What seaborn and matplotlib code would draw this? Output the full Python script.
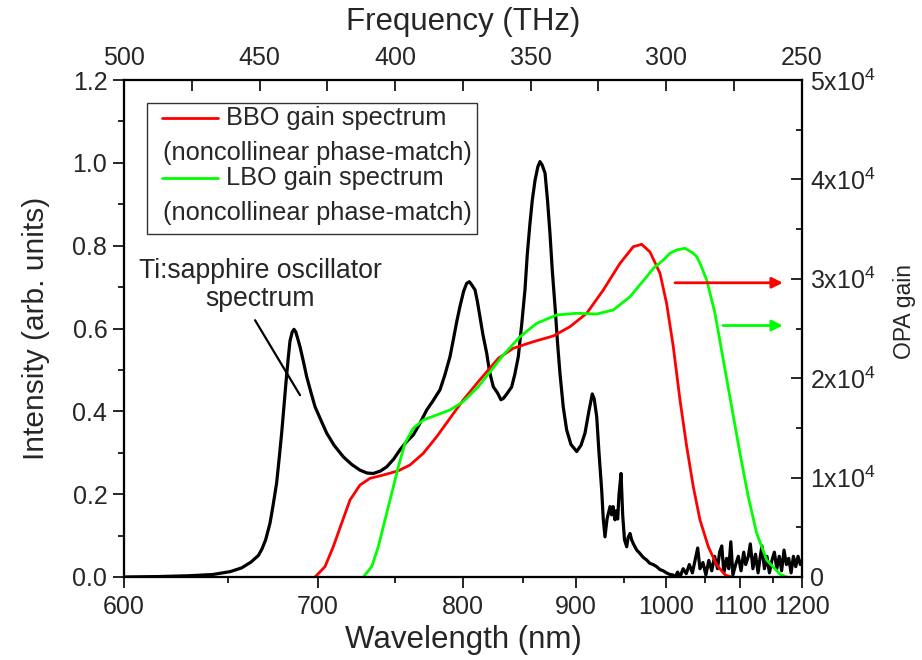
import matplotlib
matplotlib.use("Agg")
import matplotlib.pyplot as plt
import numpy as np
import pandas as pd
import seaborn as sns
from matplotlib.patches import Rectangle
from matplotlib.lines import Line2D

C_NM_THZ = 299792.458  # speed of light in nm*THz

# ---------------- data ----------------
ti_wavelength = [600, 615, 630, 642, 651, 657, 662, 666, 668, 670, 672.4, 674, 676.1, 677.5, 679,
                 680.2, 681.4, 682.6, 683.7, 685, 686, 687, 688, 689.5, 691.5, 693.4, 696, 698.4,
                 702, 705.5, 710, 715.8, 721, 726.4, 731, 735.2, 740, 744.2, 749, 753.3, 758,
                 762.7, 767, 772.4, 777, 782.3, 786, 789.9, 792.4, 795, 797.6, 800.5, 802.9, 805.0,
                 807, 809.6, 811.5, 813.6, 816, 819.1, 821.5, 824.6, 828, 831, 833.0, 836, 840.2,
                 843, 846.0, 849, 851.9, 854, 856.4, 858.5, 861.0, 863.5, 865.5, 867.5, 870.2,
                 872.5, 874.8, 877, 879.6, 882, 884.3, 887.5, 890.8, 895, 900.7, 905, 909.0, 913,
                 916.5, 918.5, 921.1, 923.5, 926.3, 928, 929.8, 932, 935.2, 937, 938.5, 940.6, 942,
                 943.5, 945, 947.2, 949, 951, 953.5, 955, 957.2, 959, 961, 964.8, 968, 972, 976.3,
                 980, 984, 988.2, 992, 996, 1000, 1004.4,
                 1008, 1011, 1014, 1017, 1021, 1025, 1029, 1033, 1037, 1040, 1043, 1047, 1051,
                 1055, 1059, 1063, 1067, 1070, 1073, 1076, 1080, 1083, 1086, 1089, 1093, 1097,
                 1101, 1105, 1108, 1112, 1115, 1119, 1123, 1127, 1130, 1133, 1137, 1141, 1145,
                 1149, 1153, 1157, 1161, 1165, 1169, 1173, 1177, 1181, 1185, 1189, 1193, 1197, 1200]
ti_intensity = [0.000, 0.001, 0.003, 0.006, 0.013, 0.022, 0.036, 0.052, 0.068, 0.090, 0.130, 0.170,
                0.227, 0.285, 0.350, 0.410, 0.470, 0.525, 0.570, 0.592, 0.598, 0.592, 0.578, 0.556,
                0.520, 0.484, 0.445, 0.411, 0.378, 0.347, 0.318, 0.290, 0.272, 0.258, 0.251, 0.250,
                0.256, 0.266, 0.285, 0.307, 0.327, 0.343, 0.368, 0.403, 0.425, 0.452, 0.488, 0.532,
                0.572, 0.615, 0.653, 0.690, 0.709, 0.713, 0.705, 0.693, 0.665, 0.628, 0.585, 0.540,
                0.495, 0.459, 0.445, 0.428, 0.431, 0.442, 0.459, 0.490, 0.532, 0.610, 0.693, 0.780,
                0.854, 0.910, 0.958, 0.990, 1.003, 0.995, 0.975, 0.910, 0.830, 0.740, 0.653, 0.565,
                0.492, 0.410, 0.355, 0.320, 0.303, 0.318, 0.347, 0.400, 0.442, 0.430, 0.387, 0.300,
                0.210, 0.140, 0.097, 0.140, 0.170, 0.150, 0.170, 0.138, 0.160, 0.140, 0.200, 0.250,
                0.150, 0.090, 0.073, 0.095, 0.105, 0.090, 0.080, 0.065, 0.058, 0.048, 0.041, 0.033,
                0.030, 0.025, 0.018, 0.015, 0.010, 0.006,
                0.005, 0.000, 0.012, 0.000, 0.020, 0.008, 0.030, 0.010, 0.045, 0.070, 0.020, 0.035,
                0.005, 0.040, 0.015, 0.050, 0.020, 0.060, 0.075, 0.010, 0.045, 0.020, 0.085, 0.005,
                0.030, 0.050, 0.015, 0.060, 0.030, 0.050, 0.080, 0.020, 0.055, 0.010, 0.045, 0.075,
                0.020, 0.050, 0.010, 0.040, 0.060, 0.020, 0.050, 0.015, 0.065, 0.030, 0.045, 0.010,
                0.050, 0.025, 0.050, 0.030, 0.040]

bbo_wavelength = [698.4, 704.4, 709.5, 714.7, 720.0, 726.4, 733.0, 741.9, 752.2, 760.4, 769.9,
                  779.8, 789.9, 800.2, 812.2, 828.8, 841.6, 859.4, 878.0, 894.0, 910.8, 928.0,
                  946.1, 960.9, 970.5, 980.2, 992.2, 1000.3, 1008.5, 1017.0, 1025.6, 1034.2,
                  1043.1, 1054.3, 1065.9, 1078.0, 1087.0]
bbo_gain = [0, 1040, 3050, 5400, 7750, 9250, 9930, 10260, 10690, 11270, 12440, 14110, 15970,
            17810, 19650, 22000, 23010, 23670, 24250, 25180, 26530, 28870, 31560, 33230, 33470,
            32700, 30550, 27500, 23200, 17810, 13110, 9080, 5730, 3050, 1210, 200, 0]

lbo_wavelength = [728.6, 734.1, 738.5, 743.0, 747.6, 752.2, 756.8, 762.7, 769.9, 779.8, 789.9,
                  800.2, 812.2, 833.0, 847.5, 862.5, 881.2, 900.7, 921.1, 938.7, 957.2, 976.3,
                  984.2, 996.2, 1004.4, 1012.8, 1023.4, 1034.2, 1038.7, 1043.1, 1052.1, 1063.5,
                  1075.2, 1087.2, 1099.4, 1111.9, 1124.8, 1140.6, 1162.3, 1173.5]
lbo_gain = [0, 1040, 3050, 5730, 8420, 11100, 13450, 14960, 15790, 16300, 16800, 17640, 19140,
            22330, 24170, 25520, 26360, 26530, 26460, 26860, 28200, 30210, 31060, 31890, 32570,
            32900, 33070, 32570, 32220, 31560, 29880, 26530, 21830, 17130, 12440, 8080, 4400,
            1710, 270, 0]

wl_ticks = [600, 700, 800, 900, 1000, 1100, 1200]
wl_minor = [650, 750, 850, 950, 1050, 1150]
freq_ticks = [500, 450, 400, 350, 300, 250]
freq_minor = [475, 425, 375, 325, 275]
intensity_ticks = [0.0, 0.2, 0.4, 0.6, 0.8, 1.0, 1.2]
intensity_minor = [0.1, 0.3, 0.5, 0.7, 0.9, 1.1]
gain_ticks = [0, 10000, 20000, 30000, 40000, 50000]
gain_minor = [5000, 15000, 25000, 35000, 45000]
gain_labels = ["0", "1x10$^{4}$", "2x10$^{4}$", "3x10$^{4}$", "4x10$^{4}$", "5x10$^{4}$"]

# annotations (wavelength, value)
ti_text_pos = (666.9, 0.705)
ti_line = ([664.2, 689.5], [0.620, 0.439])
red_arrow = (1010.7, 1167.0, 29600)
green_arrow = (1074.8, 1167.0, 25300)

# ---------------- style ----------------
sns.set_style("ticks")
plt.rcParams["font.family"] = ["Liberation Sans", "DejaVu Sans"]
plt.rcParams["mathtext.fontset"] = "custom"
plt.rcParams["mathtext.rm"] = "Liberation Sans"
plt.rcParams["mathtext.it"] = "Liberation Sans:italic"
plt.rcParams["axes.linewidth"] = 1.5

RED = "#ff0000"
GREEN = "#00ff00"

fig = plt.figure(figsize=(9.22, 6.6), dpi=100)
ax = fig.add_axes([124 / 922, (660 - 577) / 660, 678 / 922, 497 / 660])
ax2 = ax.twinx()

df_ti = pd.DataFrame({"wavelength": ti_wavelength, "intensity": ti_intensity})
df_bbo = pd.DataFrame({"wavelength": bbo_wavelength, "gain": bbo_gain})
df_lbo = pd.DataFrame({"wavelength": lbo_wavelength, "gain": lbo_gain})

sns.lineplot(data=df_ti, x="wavelength", y="intensity", ax=ax, color="black", lw=2.3,
             sort=False, estimator=None, legend=False)
sns.lineplot(data=df_bbo, x="wavelength", y="gain", ax=ax2, color=RED, lw=2.0,
             sort=False, estimator=None, legend=False)
sns.lineplot(data=df_lbo, x="wavelength", y="gain", ax=ax2, color=GREEN, lw=2.0,
             sort=False, estimator=None, legend=False)

# x axis linear in optical frequency
ax.set_xscale("function", functions=(lambda x: -1.0 / np.asarray(x, float),
                                     lambda y: -1.0 / np.asarray(y, float)))
ax.set_xlim(600, 1200)
ax.set_ylim(0, 1.2)
ax2.set_ylim(0, 50000)

ax.set_xticks(wl_ticks)
ax.set_xticklabels([str(v) for v in wl_ticks])
ax.set_xticks(wl_minor, minor=True)
ax.set_yticks(intensity_ticks)
ax.set_yticklabels([f"{v:.1f}" for v in intensity_ticks])
ax.set_yticks(intensity_minor, minor=True)
ax2.set_yticks(gain_ticks)
ax2.set_yticklabels(gain_labels)
ax2.set_yticks(gain_minor, minor=True)

# top frequency axis
ax3 = ax.twiny()
ax3.set_xlim(C_NM_THZ / 600, C_NM_THZ / 1200)
ax3.set_xticks(freq_ticks)
ax3.set_xticklabels([str(v) for v in freq_ticks])
ax3.set_xticks(freq_minor, minor=True)

for a in (ax, ax2, ax3):
    for s in a.spines.values():
        s.set_linewidth(1.5)
        s.set_color("black")

ax.tick_params(axis="x", which="major", direction="out", length=8, width=1.4, labelsize=18, pad=5,
               top=False)
ax.tick_params(axis="x", which="minor", direction="out", length=4.5, width=1.4, top=False)
ax.tick_params(axis="y", which="major", direction="out", length=8, width=1.4, labelsize=18, pad=4)
ax.tick_params(axis="y", which="minor", direction="out", length=4.5, width=1.4)
ax2.tick_params(axis="y", which="major", direction="in", length=8, width=1.4, labelsize=18, pad=6)
ax2.tick_params(axis="y", which="minor", direction="in", length=4.5, width=1.4)
ax3.tick_params(axis="x", which="major", direction="in", length=8, width=1.4, labelsize=18, pad=7.5)
ax3.tick_params(axis="x", which="minor", direction="in", length=8, width=1.4)

ax.set_xlabel("Wavelength (nm)", fontsize=22.5, labelpad=4)
ax.set_ylabel("Intensity (arb. units)", fontsize=21.5, labelpad=16)
ax2.set_ylabel("OPA gain", fontsize=16.5, labelpad=12)
ax2.yaxis.label.set_y(0.535)
ax3.set_xlabel("Frequency (THz)", fontsize=22.5, labelpad=11)

# Ti:sapphire annotation
ax.text(ti_text_pos[0], ti_text_pos[1], "Ti:sapphire oscillator\nspectrum", fontsize=19.2,
        ha="center", va="center", multialignment="center", linespacing=1.1)
ax.plot(ti_line[0], ti_line[1], color="black", lw=1.6)

# arrows pointing to the right axis
for (x0, x1, yv), col in ((red_arrow, RED), (green_arrow, GREEN)):
    ax2.annotate("", xy=(x1, yv), xytext=(x0, yv),
                 arrowprops=dict(arrowstyle="-|>", color=col, lw=2.0, mutation_scale=16,
                                 shrinkA=0, shrinkB=0))

# legend box (drawn in axes fraction)
tr = ax3.transAxes
ax3.add_patch(Rectangle((0.0339, 0.6901), 0.5206 - 0.0339, 0.9537 - 0.6901, transform=tr,
                        facecolor="white", edgecolor="#333333", lw=1.0, zorder=5))
ax3.add_line(Line2D([0.0560, 0.1386], [0.9235, 0.9235], transform=tr, color=RED, lw=2.0, zorder=6))
ax3.add_line(Line2D([0.0560, 0.1386], [0.8028, 0.8028], transform=tr, color=GREEN, lw=2.0, zorder=6))
leg_fs = 18.3
ax3.text(0.1504, 0.9235, "BBO gain spectrum", transform=tr, fontsize=leg_fs, va="center", zorder=6)
ax3.text(0.0575, 0.8531, "(noncollinear phase-match)", transform=tr, fontsize=leg_fs, va="center", zorder=6)
ax3.text(0.1504, 0.8028, "LBO gain spectrum", transform=tr, fontsize=leg_fs, va="center", zorder=6)
ax3.text(0.0575, 0.7324, "(noncollinear phase-match)", transform=tr, fontsize=leg_fs, va="center", zorder=6)

fig.savefig("out.png", dpi=100, facecolor="white")
